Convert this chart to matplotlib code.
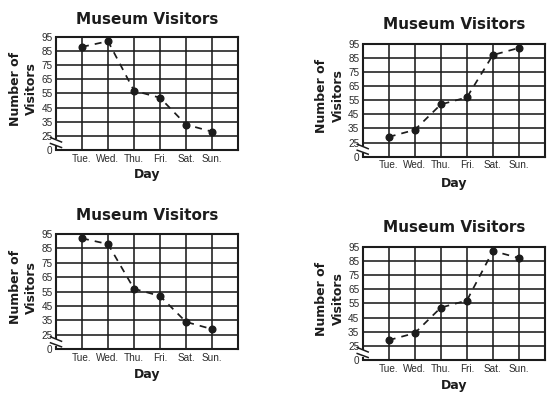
import numpy as np
import matplotlib
matplotlib.use("Agg")
import matplotlib.pyplot as plt
from matplotlib.lines import Line2D

# ---- data ----
days = ["Tue.", "Wed.", "Thu.", "Fri.", "Sat.", "Sun."]
visitors_a = [88, 92, 57, 52, 33, 28]   # top-left
visitors_b = [29, 34, 52, 57, 87, 92]   # top-right
visitors_c = [92, 88, 57, 52, 34, 29]   # bottom-left
visitors_d = [29, 34, 52, 57, 92, 87]   # bottom-right
y_ticks = [0, 25, 35, 45, 55, 65, 75, 85, 95]
title = "Museum Visitors"
x_label = "Day"
y_label = "Number of\nVisitors"

W, H = 557, 394
DPI = 100
INK = "#1c1c1c"

fig = plt.figure(figsize=(W / DPI, H / DPI), dpi=DPI)
fig.patch.set_facecolor("white")


def fwd(v):
    v = np.asarray(v, dtype=float)
    return np.where(v < 25, v / 25.0, (v - 25.0) / 10.0 + 1.0)


def inv(p):
    p = np.asarray(p, dtype=float)
    return np.where(p < 1, p * 25.0, (p - 1.0) * 10.0 + 25.0)


# panel layout in pixels: left, right, top, bottom, title baseline, day baseline, ylabel x
panels = [
    (visitors_a, 56.0, 238.0, 37.0, 150.0, 24.0, 178.3, 23.6),
    (visitors_b, 362.7, 545.0, 43.7, 156.7, 29.0, 186.7, 330.0),
    (visitors_c, 56.0, 238.0, 234.0, 349.3, 220.0, 377.7, 23.6),
    (visitors_d, 362.7, 545.0, 246.7, 360.0, 231.7, 389.3, 330.0),
]

for vals, l, r, t, b, tb, db, ylx in panels:
    ax = fig.add_axes([l / W, 1 - b / H, (r - l) / W, (b - t) / H])
    ax.set_yscale("function", functions=(fwd, inv))
    ax.set_xlim(0, 7)
    ax.set_ylim(0, 95)
    ax.set_xticks(range(1, 7))
    ax.set_xticklabels(days)
    ax.set_yticks(y_ticks)
    ax.set_yticklabels([str(v) for v in y_ticks])
    ax.tick_params(length=0, labelsize=7.2, colors="#2a2a2a")
    ax.tick_params(axis="x", pad=2.6)
    ax.tick_params(axis="y", pad=2.4)
    for lab in ax.get_xticklabels() + ax.get_yticklabels():
        lab.set_fontfamily("Liberation Sans")

    # grid
    for x in range(1, 7):
        ax.axvline(x, color=INK, lw=1.15, zorder=1)
    for y in y_ticks[1:]:
        ax.axhline(y, color=INK, lw=1.15, zorder=1)

    for s in ["top", "right", "bottom"]:
        ax.spines[s].set_linewidth(1.5)
        ax.spines[s].set_color(INK)
    ax.spines["left"].set_visible(False)

    hpx = b - t
    wpx = r - l
    # broken left spine
    ax.add_line(Line2D([0, 0], [1, 10.5 / hpx], transform=ax.transAxes,
                       color=INK, lw=1.5, clip_on=False, solid_capstyle="butt"))
    ax.add_line(Line2D([0, 0], [0, 3.5 / hpx], transform=ax.transAxes,
                       color=INK, lw=1.5, clip_on=False, solid_capstyle="butt"))
    # break marks
    for y0, y1 in [(12.5, 8.0), (6.5, 2.5)]:
        ax.add_line(Line2D([-5.5 / wpx, 5.5 / wpx], [y0 / hpx, y1 / hpx],
                           transform=ax.transAxes, color=INK, lw=1.1,
                           clip_on=False))

    ax.plot(range(1, 7), vals, color=INK, lw=1.25, ls=(0, (4, 3.5)),
            marker="o", ms=4.8, zorder=3, clip_on=False)

    cx = (l + r) / 2 / W
    fig.text(cx, 1 - tb / H, title, ha="center", va="baseline",
             fontsize=11, fontweight="bold", color=INK, family="DejaVu Sans")
    fig.text(cx, 1 - db / H, x_label, ha="center", va="baseline",
             fontsize=9, fontweight="bold", color=INK, family="DejaVu Sans")
    fig.text(ylx / W, 1 - ((t + b) / 2 - 4.5) / H, y_label, ha="center",
             va="center", rotation=90, multialignment="center",
             fontsize=9, fontweight="bold", color=INK, family="DejaVu Sans",
             linespacing=1.32)

fig.savefig("out.png", dpi=DPI, facecolor="white")
